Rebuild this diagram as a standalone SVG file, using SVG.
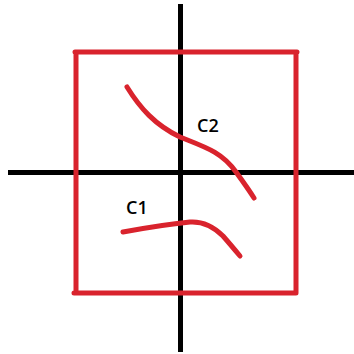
<svg xmlns="http://www.w3.org/2000/svg" width="354" height="354" viewBox="0 0 354 354">
<style>
.axis{stroke:#000;stroke-width:5;fill:none}
.red{stroke:#d9232d;stroke-width:5;fill:none;stroke-linecap:round;stroke-linejoin:round}
.lbl{font-family:"Open Sans","Liberation Sans",sans-serif;font-size:18px;font-weight:600;fill:#000}
</style>
<rect width="354" height="354" fill="#fff"/>
<g id="axes">
<line class="axis" x1="180.5" y1="4" x2="180.5" y2="352"/>
<line class="axis" x1="8" y1="172.5" x2="354" y2="172.5"/>
</g>
<g id="box">
<path class="red" d="M75 52 L297 52 M76 52 L76 293 M296 52 L296 293 M74 293 L296 293"/>
</g>
<g id="C2">
<path class="red" d="M127 87 C140 108 155 125 180 137 C205 147 222 152 236 172 C244 183 249 190 254 198"/>
<text class="lbl" x="197" y="132">C2</text>
</g>
<g id="C1">
<path class="red" d="M123 232 C150 227 170 224 190 222 C205 221 215 228 223 236 C230 244 235 250 240 256"/>
<text class="lbl" x="126" y="214">C1</text>
</g>
</svg>
